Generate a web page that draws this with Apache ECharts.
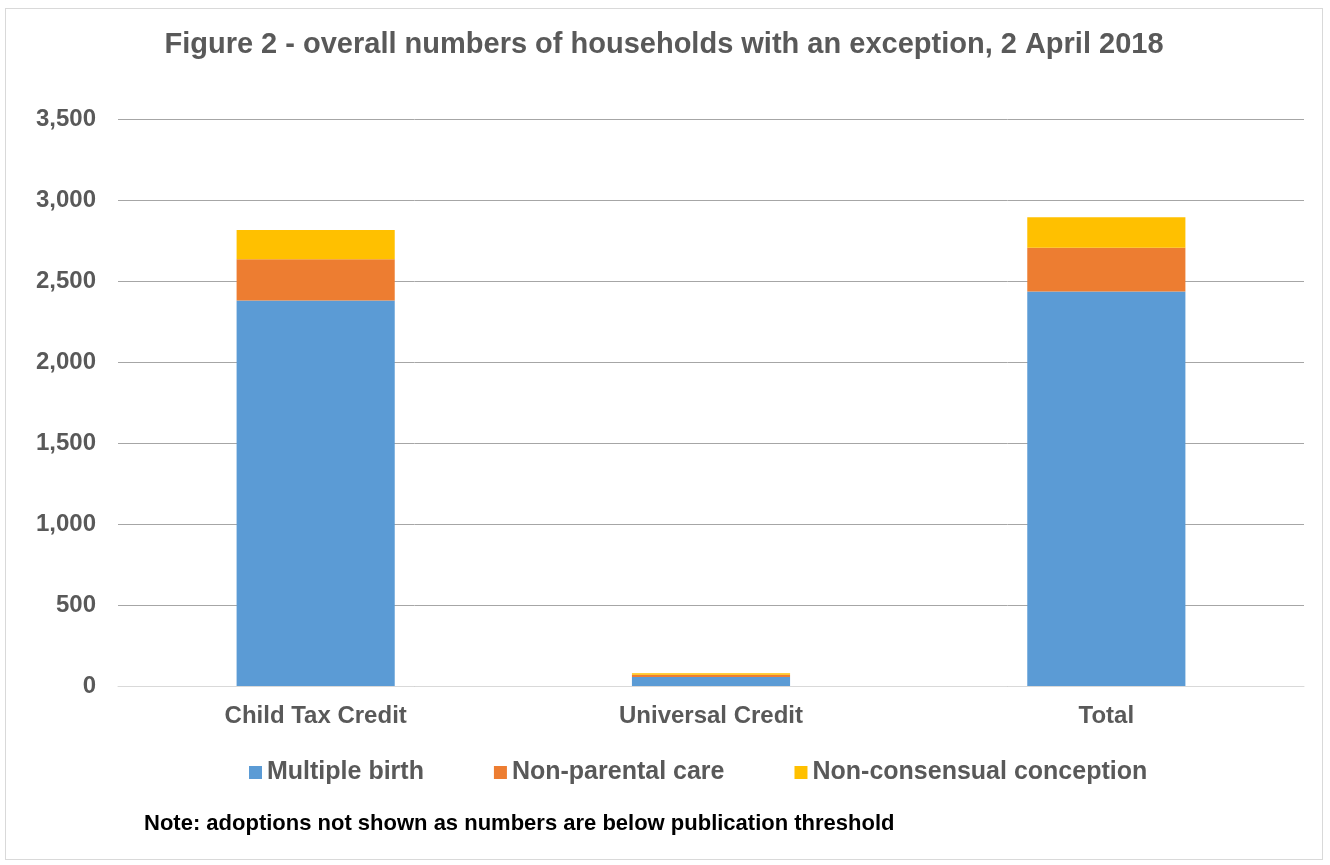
<!DOCTYPE html>
<html>
<head>
<meta charset="utf-8">
<script src="https://cdn.jsdelivr.net/npm/echarts@6/dist/echarts.min.js"></script>
<style>
  html, body { margin: 0; padding: 0; background: #fff; }
  #chart { position: absolute; left: 5px; top: 8px; width: 1318px; height: 852px; border: 1px solid #d9d9d9; box-sizing: border-box; }
</style>
</head>
<body>
<div id="chart"></div>
<script>
'use strict';

var categories = ['Child Tax Credit', 'Universal Credit', 'Total'];
var multipleBirth = [2380, 55, 2435];
var nonParentalCare = [255, 15, 270];
var nonConsensual = [180, 8, 188];
var seriesNames = ['Multiple birth', 'Non-parental care', 'Non-consensual conception'];
var colors = ['#5b9bd5', '#ed7d31', '#ffc000'];

var chart = echarts.init(document.getElementById('chart'));
var font = 'Arial, "Liberation Sans", sans-serif';

function barSeries(name, data) {
  return {
    name: name,
    type: 'bar',
    stack: 'all',
    barWidth: '40%',
    data: data
  };
}

chart.setOption({
  color: colors,
  animation: false,
  title: {
    text: 'Figure 2 - overall numbers of households with an exception, 2 April 2018',
    left: 'center',
    top: 16,
    textStyle: { fontFamily: font, fontSize: 29, fontWeight: 'bold', color: '#595959' }
  },
  grid: { left: 112, right: 18, top: 110, bottom: 173 },
  legend: {
    data: seriesNames,
    left: 238,
    top: 746,
    itemWidth: 13,
    itemHeight: 13,
    itemGap: 70,
    icon: 'rect',
    textStyle: { fontFamily: font, fontSize: 25, fontWeight: 'bold', color: '#595959' }
  },
  xAxis: {
    type: 'category',
    data: categories,
    axisTick: { show: false },
    axisLine: { lineStyle: { color: '#d9d9d9' } },
    axisLabel: { fontFamily: font, fontSize: 24, fontWeight: 'bold', color: '#595959', margin: 18 }
  },
  yAxis: {
    type: 'value',
    min: 0,
    max: 3500,
    interval: 500,
    axisLine: { show: false },
    axisTick: { show: false },
    splitLine: { lineStyle: { color: '#a6a6a6' } },
    axisLabel: {
      fontFamily: font, fontSize: 24, fontWeight: 'bold', color: '#595959', margin: 22,
      formatter: function (v) { return v.toLocaleString('en-GB'); }
    }
  },
  graphic: [{
    type: 'text',
    left: 138,
    top: 804,
    style: {
      text: 'Note: adoptions not shown as numbers are below publication threshold',
      fontFamily: font, fontSize: 22, fontWeight: 'bold', fill: '#000'
    }
  }],
  series: [
    barSeries(seriesNames[0], multipleBirth),
    barSeries(seriesNames[1], nonParentalCare),
    barSeries(seriesNames[2], nonConsensual)
  ]
});
</script>
</body>
</html>
